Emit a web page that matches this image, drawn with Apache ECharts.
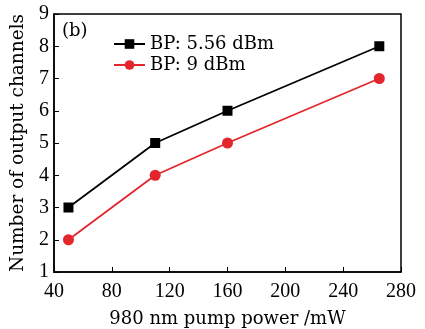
<!DOCTYPE html>
<html><head><meta charset="utf-8">
<script src="https://cdn.jsdelivr.net/npm/echarts@6/dist/echarts.min.js"></script>
<style>html,body{margin:0;padding:0;background:#fff}#c{width:425px;height:329px}</style>
</head><body><div id="c"></div>
<script>
const pumpPower = [50, 110, 160, 265];
const channelsBP556 = [3, 5, 6, 8];
const channelsBP9 = [2, 4, 5, 7];
const seriesNames = ['BP: 5.56 dBm', 'BP: 9 dBm'];
const NUMFONT = 'Liberation Serif';
const TXTFONT = 'DejaVu Serif';
const chart = echarts.init(document.getElementById('c'));
chart.setOption({
  animation: false,
  grid: {left: 54, right: 24, top: 14, bottom: 57, show: true, borderColor: '#000', borderWidth: 1.5, backgroundColor: 'transparent', outerBoundsMode: 'none', containLabel: false},
  legend: {
    left: 108, top: 30, orient: 'vertical', itemGap: 3, itemWidth: 31, itemHeight: 12,
    textStyle: {fontFamily: TXTFONT, fontSize: 18, color: '#000'},
    data: seriesNames
  },
  graphic: [{type: 'text', left: 62, top: 22, style: {text: '(b)', font: '18px "DejaVu Serif"', fill: '#000'}}],
  xAxis: {
    type: 'value', min: 40, max: 280, interval: 40,
    name: '980 nm pump power /mW', nameLocation: 'middle', nameGap: 38,
    nameTextStyle: {fontFamily: TXTFONT, fontSize: 18, color: '#000'},
    axisLine: {lineStyle: {color: '#000', width: 1.5}},
    axisTick: {inside: true, length: 5, lineStyle: {color: '#000'}},
    axisLabel: {fontFamily: NUMFONT, fontSize: 20, color: '#000', margin: 10},
    splitLine: {show: false}
  },
  yAxis: {
    type: 'value', min: 1, max: 9, interval: 1,
    name: 'Number of output channels', nameLocation: 'middle', nameGap: 23,
    nameTextStyle: {fontFamily: TXTFONT, fontSize: 18.5, color: '#000'},
    axisLine: {lineStyle: {color: '#000', width: 1.5}},
    axisTick: {inside: true, length: 5, lineStyle: {color: '#000'}},
    axisLabel: {fontFamily: NUMFONT, fontSize: 20, color: '#000', margin: 5},
    splitLine: {show: false}
  },
  series: [
    {name: seriesNames[0], type: 'line', symbol: 'rect', symbolSize: 10,
     data: pumpPower.map((x, i) => [x, channelsBP556[i]]),
     lineStyle: {color: '#000', width: 1.8}, itemStyle: {color: '#000'}},
    {name: seriesNames[1], type: 'line', symbol: 'circle', symbolSize: 11,
     data: pumpPower.map((x, i) => [x, channelsBP9[i]]),
     lineStyle: {color: '#e2262b', width: 1.8}, itemStyle: {color: '#e2262b'}}
  ]
});
</script></body></html>
